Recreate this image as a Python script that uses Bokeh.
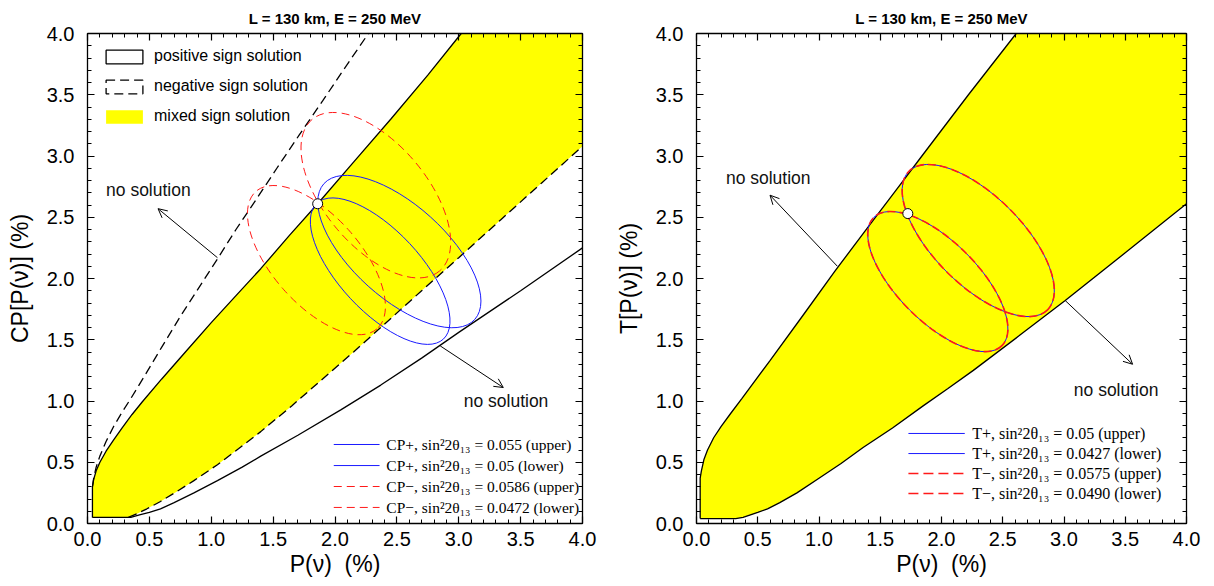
from bokeh.plotting import figure
from bokeh.models import (Range1d, LinearAxis, FixedTicker, NumeralTickFormatter, Legend,
                          LegendItem, Arrow, OpenHead)
from bokeh.layouts import row
from bokeh.embed import file_html
from bokeh.resources import INLINE
from bokeh.core.properties import value

# ---------------- data ----------------
TITLE = "L = 130 km, E = 250 MeV"
X_LABEL = "P(ν)\u00a0\u00a0(%)"
Y_LABEL_CP = "CP[P(ν)] (%)"
Y_LABEL_T = "T[P(ν)] (%)"
AX_MIN, AX_MAX = 0.0, 4.0
major_ticks = [0.0, 0.5, 1.0, 1.5, 2.0, 2.5, 3.0, 3.5, 4.0]
minor_ticks = [i / 10 for i in range(41)]

# Left panel (CP)
cp_pos_upper_x = [0.04, 0.04, 0.05, 0.07, 0.10, 0.15, 0.21, 0.28, 0.36, 0.44, 0.60, 0.80,
                  1.00, 1.20, 1.40, 1.63, 1.86, 2.15, 2.45, 2.75, 3.02]
cp_pos_upper_y = [0.05, 0.30, 0.36, 0.43, 0.50, 0.59, 0.68, 0.78, 0.89, 0.99, 1.18, 1.41,
                  1.64, 1.86, 2.08, 2.35, 2.61, 2.95, 3.30, 3.66, 4.00]
cp_pos_lower_x = [0.04, 0.35, 0.42, 0.50, 0.59, 0.70, 0.86, 1.05, 1.25, 1.40, 1.70, 2.05,
                  2.37, 2.70, 3.00, 3.50, 4.00]
cp_pos_lower_y = [0.05, 0.05, 0.07, 0.09, 0.12, 0.17, 0.25, 0.35, 0.46, 0.55, 0.72, 0.93,
                  1.13, 1.35, 1.56, 1.90, 2.25]
cp_neg_upper_x = [0.04, 0.05, 0.07, 0.10, 0.15, 0.21, 0.28, 0.35, 0.47, 0.60, 0.75, 0.89,
                  1.05, 1.20, 1.36, 1.53, 1.71, 1.90, 2.08, 2.27]
cp_neg_upper_y = [0.30, 0.37, 0.46, 0.55, 0.67, 0.79, 0.91, 1.02, 1.22, 1.44, 1.69, 1.91,
                  2.16, 2.40, 2.64, 2.90, 3.17, 3.45, 3.72, 4.00]
cp_neg_lower_x = [0.33, 0.40, 0.48, 0.59, 0.72, 0.86, 1.05, 1.22, 1.40, 1.65, 1.90, 2.15,
                  2.37, 2.70, 3.00, 3.34, 3.67, 4.00]
cp_neg_lower_y = [0.05, 0.08, 0.12, 0.18, 0.26, 0.35, 0.48, 0.61, 0.75, 0.96, 1.18, 1.40,
                  1.60, 1.90, 2.17, 2.48, 2.78, 3.08]

cp_plus_labels = ["CP+, sin²2θ₁₃ = 0.055 (upper)", "CP+, sin²2θ₁₃ = 0.05 (lower)"]
cp_plus_x = [2.52, 2.365]
cp_plus_y = [2.22, 2.06]
cp_plus_w = [1.64, 1.50]
cp_plus_h = [0.76, 0.66]
cp_plus_angle = [-42, -47]

cp_minus_labels = ["CP−, sin²2θ₁₃ = 0.0586 (upper)", "CP−, sin²2θ₁₃ = 0.0472 (lower)"]
cp_minus_x = [2.33, 1.85]
cp_minus_y = [2.68, 2.15]
cp_minus_w = [1.60, 1.48]
cp_minus_h = [0.84, 0.72]
cp_minus_angle = [-50, -48.6]

cp_point_x = [1.86]
cp_point_y = [2.61]

cp_text_x = [0.15, 3.04]
cp_text_y = [2.72, 1.00]
cp_arrow_x0 = [1.05, 2.85]
cp_arrow_y0 = [2.17, 1.45]
cp_arrow_x1 = [0.57, 3.36]
cp_arrow_y1 = [2.57, 1.11]

# Right panel (T)
t_upper_x = [0.03, 0.03, 0.04, 0.06, 0.09, 0.14, 0.20, 0.28, 0.37, 0.60, 0.87, 1.13,
             1.40, 1.62, 1.84, 2.22, 2.61]
t_upper_y = [0.04, 0.37, 0.43, 0.52, 0.60, 0.70, 0.79, 0.90, 1.02, 1.33, 1.70, 2.06,
             2.42, 2.71, 3.00, 3.50, 4.00]
t_lower_x = [0.03, 0.32, 0.38, 0.44, 0.50, 0.58, 0.68, 0.82, 1.00, 1.18, 1.36, 1.60,
             1.85, 2.05, 2.26, 2.63, 3.01, 3.50, 4.00]
t_lower_y = [0.04, 0.04, 0.05, 0.07, 0.09, 0.12, 0.17, 0.25, 0.37, 0.49, 0.62, 0.78,
             0.96, 1.10, 1.25, 1.53, 1.82, 2.21, 2.61]

t_plus_labels = ["T+, sin²2θ₁₃ = 0.05 (upper)", "T+, sin²2θ₁₃ = 0.0427 (lower)"]
t_plus_x = [2.30, 1.97]
t_plus_y = [2.31, 1.975]
t_plus_w = [1.60, 1.48]
t_plus_h = [0.726, 0.654]
t_plus_angle = [-45, -45]

t_minus_labels = ["T−, sin²2θ₁₃ = 0.0575 (upper)", "T−, sin²2θ₁₃ = 0.0490 (lower)"]
t_minus_x = [2.30, 1.97]
t_minus_y = [2.31, 1.975]
t_minus_w = [1.60, 1.48]
t_minus_h = [0.726, 0.654]
t_minus_angle = [-45, -45]

t_point_x = [1.725]
t_point_y = [2.53]

t_text_x = [0.24, 3.08]
t_text_y = [2.82, 1.09]
t_arrow_x0 = [1.15, 3.01]
t_arrow_y0 = [2.10, 1.82]
t_arrow_x1 = [0.60, 3.56]
t_arrow_y1 = [2.68, 1.30]

# ---------------- layout constants for the line-key legends (not data) ----------------
LEG2_KEY_X = (1.99, 2.36)
LEG2_TEXT_X = 2.415
LEG2_ROWS = [0.645, 0.473, 0.302, 0.131]
LEG3_KEY_X = (1.73, 2.19)
LEG3_TEXT_X = 2.25
LEG3_ROWS = [0.735, 0.571, 0.408, 0.245]

# ---------------- styling helpers ----------------
SANS = "Liberation Sans"
SERIF = "Liberation Serif"
YELLOW = "#FFFF00"
BLUE = "#1a1aff"
RED = "#ff1a1a"


def style_axis(ax, labels=True):
    ax.ticker = FixedTicker(ticks=major_ticks, minor_ticks=minor_ticks)
    ax.formatter = NumeralTickFormatter(format="0.0")
    ax.major_tick_in = 7
    ax.major_tick_out = 0
    ax.minor_tick_in = 4
    ax.minor_tick_out = 0
    ax.axis_line_width = 1.3
    ax.axis_line_color = "black"
    ax.major_tick_line_width = 1.2
    ax.major_tick_line_color = "black"
    ax.minor_tick_line_color = "black"
    ax.major_label_text_font = SANS
    ax.major_label_text_color = "black"
    ax.major_label_text_font_size = "20px" if labels else "0px"
    ax.axis_label_text_font = SANS
    ax.axis_label_text_font_style = "normal"
    ax.axis_label_text_font_size = "23px"
    ax.axis_label_text_color = "black"


def make_fig(ylabel, bl, br, fw):
    p = figure(frame_width=fw, frame_height=490,
               x_range=Range1d(AX_MIN, AX_MAX), y_range=Range1d(AX_MIN, AX_MAX),
               output_backend="svg", toolbar_location=None,
               min_border_left=bl, min_border_right=br, min_border_top=33, min_border_bottom=61,
               title=TITLE)
    p.title.align = "center"
    p.title.text_font = SANS
    p.title.text_font_size = "15px"
    p.title.text_font_style = "bold"
    p.title.text_color = "black"
    p.title.standoff = 13
    p.xgrid.visible = False
    p.ygrid.visible = False
    p.outline_line_color = "black"
    p.background_fill_color = "white"
    style_axis(p.xaxis[0])
    style_axis(p.yaxis[0])
    p.xaxis[0].axis_label = X_LABEL
    p.yaxis[0].axis_label = ylabel
    p.xaxis[0].major_label_standoff = 8
    p.xaxis[0].axis_label_standoff = 2
    p.yaxis[0].major_label_standoff = 13
    p.yaxis[0].axis_label_standoff = 11
    ra = LinearAxis()
    style_axis(ra, labels=False)
    p.add_layout(ra, "right")
    ta = LinearAxis()
    style_axis(ta, labels=False)
    p.add_layout(ta, "above")
    return p


def add_arrows_and_text(p, x0, y0, x1, y1, tx, ty):
    for a, b, c, d in zip(x0, y0, x1, y1):
        p.add_layout(Arrow(end=OpenHead(size=9, line_width=1, line_color="black"),
                           x_start=a, y_start=b, x_end=c, y_end=d,
                           line_width=1, line_color="black"))
    p.text(x=tx, y=ty, text=["no solution"] * len(tx), text_font=value(SANS),
           text_font_size="17.5px", text_baseline="middle", text_align="left",
           text_color="#111111")


def line_key_legend(p, labels, styles, key_x, text_x, rows, font_size):
    for (c, w, d), yy in zip(styles, rows):
        p.segment(x0=[key_x[0]], y0=[yy], x1=[key_x[1]], y1=[yy],
                  line_color=c, line_width=w, line_dash=d)
    p.text(x=[text_x] * len(labels), y=rows, text=labels, text_font=value(SERIF),
           text_font_size=font_size, text_baseline="middle", text_align="left",
           text_color="black")


# ---------------- left panel ----------------
p1 = make_fig(Y_LABEL_CP, 87, 30, 495)

fill_x = cp_pos_upper_x + [AX_MAX] + cp_neg_lower_x[::-1]
fill_y = cp_pos_upper_y + [AX_MAX] + cp_neg_lower_y[::-1]
p1.patch(fill_x, fill_y, fill_color=YELLOW, line_color=None)

p1.line(cp_pos_upper_x, cp_pos_upper_y, line_color="black", line_width=1.3)
p1.line(cp_pos_lower_x, cp_pos_lower_y, line_color="black", line_width=1.3)
p1.line(cp_neg_upper_x, cp_neg_upper_y, line_color="black", line_width=1.3, line_dash="9 5")
p1.line(cp_neg_lower_x, cp_neg_lower_y, line_color="black", line_width=1.3, line_dash="9 5")

p1.ellipse(x=cp_plus_x, y=cp_plus_y, width=cp_plus_w, height=cp_plus_h,
           angle=cp_plus_angle, angle_units="deg", fill_alpha=0,
           line_color=BLUE, line_width=1)
p1.ellipse(x=cp_minus_x, y=cp_minus_y, width=cp_minus_w, height=cp_minus_h,
           angle=cp_minus_angle, angle_units="deg", fill_alpha=0,
           line_color=RED, line_width=1, line_dash="8 5")

p1.scatter(cp_point_x, cp_point_y, size=10, fill_color="white", line_color="black", line_width=1)
add_arrows_and_text(p1, cp_arrow_x0, cp_arrow_y0, cp_arrow_x1, cp_arrow_y1, cp_text_x, cp_text_y)

# legend 1 (sign solutions) -- hidden renderers only supply the legend symbols
lg_pos = p1.quad(left=cp_point_x, right=cp_point_x, top=cp_point_y, bottom=cp_point_y,
                 fill_alpha=0, line_color="black", line_width=1.3, visible=False)
lg_neg = p1.quad(left=cp_point_x, right=cp_point_x, top=cp_point_y, bottom=cp_point_y,
                 fill_alpha=0, line_color="#010101", line_width=1.3, line_dash="9 5",
                 visible=False)
lg_mix = p1.quad(left=cp_point_x, right=cp_point_x, top=cp_point_y, bottom=cp_point_y,
                 fill_color=YELLOW, line_color=None, visible=False)
leg1 = Legend(items=[LegendItem(label="positive sign solution", renderers=[lg_pos]),
                     LegendItem(label="negative sign solution", renderers=[lg_neg]),
                     LegendItem(label="mixed sign solution", renderers=[lg_mix])],
              location="top_left", margin=8, padding=6, spacing=12,
              glyph_width=46, glyph_height=17, label_height=17, label_standoff=7,
              label_text_font=SANS, label_text_font_size="16px", label_text_color="black",
              border_line_alpha=0, background_fill_alpha=0, click_policy="none")
p1.add_layout(leg1, "center")

line_key_legend(p1, cp_plus_labels + cp_minus_labels,
                [(BLUE, 1, "solid"), (BLUE, 1, "solid"), (RED, 1, "8 5"), (RED, 1, "8 5")],
                LEG2_KEY_X, LEG2_TEXT_X, LEG2_ROWS, "15.5px")

# ---------------- right panel ----------------
p2 = make_fig(Y_LABEL_T, 81, 29, 490)

fill2_x = t_upper_x + [AX_MAX] + t_lower_x[::-1]
fill2_y = t_upper_y + [AX_MAX] + t_lower_y[::-1]
p2.patch(fill2_x, fill2_y, fill_color=YELLOW, line_color=None)
p2.line(t_upper_x, t_upper_y, line_color="black", line_width=1.3)
p2.line(t_lower_x, t_lower_y, line_color="black", line_width=1.3)

p2.ellipse(x=t_plus_x, y=t_plus_y, width=t_plus_w, height=t_plus_h,
           angle=t_plus_angle, angle_units="deg", fill_alpha=0,
           line_color=BLUE, line_width=1)
p2.ellipse(x=t_minus_x, y=t_minus_y, width=t_minus_w, height=t_minus_h,
           angle=t_minus_angle, angle_units="deg", fill_alpha=0,
           line_color=RED, line_width=1.6, line_dash="8 4")

p2.scatter(t_point_x, t_point_y, size=10, fill_color="white", line_color="black", line_width=1)
add_arrows_and_text(p2, t_arrow_x0, t_arrow_y0, t_arrow_x1, t_arrow_y1, t_text_x, t_text_y)

line_key_legend(p2, t_plus_labels + t_minus_labels,
                [(BLUE, 1, "solid"), (BLUE, 1, "solid"), (RED, 1.6, "10 5"), (RED, 1.6, "10 5")],
                LEG3_KEY_X, LEG3_TEXT_X, LEG3_ROWS, "16px")

layout = row(p1, p2)
open("out.html", "w").write(file_html(layout, INLINE))
